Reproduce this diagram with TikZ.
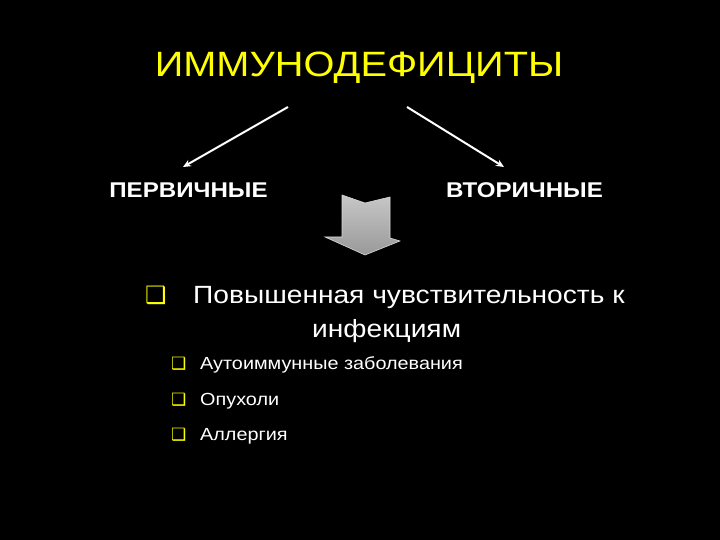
\documentclass[tikz,border=0pt]{standalone}
\usepackage{fontspec}
\setmainfont{Liberation Sans}
\newfontfamily\boxfont{DejaVu Sans}
\usetikzlibrary{arrows.meta}
\definecolor{slideyellow}{RGB}{255,255,0}

\begin{document}
\begin{tikzpicture}[x=1bp,y=-1bp,
  wide/.style={inner sep=0pt,xscale=1.13},
  heading/.style={wide,text=slideyellow,anchor=base,font=\fontsize{35.3}{40}\selectfont},
  kind/.style={wide,text=white,anchor=base,font=\bfseries\fontsize{21.4}{25}\selectfont},
  bigitem/.style={wide,text=white,anchor=base west,font=\fontsize{25}{30}\selectfont},
  smallitem/.style={wide,text=white,anchor=base west,font=\fontsize{17.6}{21}\selectfont},
  bigmark/.style={text=slideyellow,inner sep=0pt,anchor=base west,font=\boxfont\fontsize{24}{28}\selectfont},
  smallmark/.style={text=slideyellow,inner sep=0pt,anchor=base west,font=\boxfont\fontsize{17}{20}\selectfont},
  link/.style={draw=white,line width=2bp,-{Stealth[length=8bp,width=7bp]}}]
\fill[black] (0,0) rectangle (720,540);
\useasboundingbox (0,0) rectangle (720,540);
\node[heading] (title) at (359,77) {ИММУНОДЕФИЦИТЫ};
\node[kind] (prim) at (188.5,198) {ПЕРВИЧНЫЕ};
\node[kind] (sec) at (524.5,198) {ВТОРИЧНЫЕ};
\coordinate (pstart) at (288,107);
\coordinate (pend) at (183,167);
\coordinate (sstart) at (407,107);
\coordinate (send) at (504,167);
\draw[link] (pstart) -- (pend);
\draw[link] (sstart) -- (send);
\shade[top color=black!22,bottom color=black!40,draw=black!15,line width=0.6bp]
  (342,195) -- (365,203) -- (390,197) -- (390,238) -- (400,241) -- (365,255)
  -- (325,237) -- (342,237) -- cycle;
\node[bigmark] (m0) at (145,303) {❑};
\node[bigitem] (sens) at (193,303) {Повышенная чувствительность к};
\node[bigitem] (inf) at (312,337) {инфекциям};
\node[smallmark] (m1) at (171,369) {❑};
\node[smallitem] (auto) at (200,369) {Аутоиммунные заболевания};
\node[smallmark] (m2) at (171,405) {❑};
\node[smallitem] (tum) at (200,405) {Опухоли};
\node[smallmark] (m3) at (171,440) {❑};
\node[smallitem] (all) at (200,440) {Аллергия};
\end{tikzpicture}
\end{document}
